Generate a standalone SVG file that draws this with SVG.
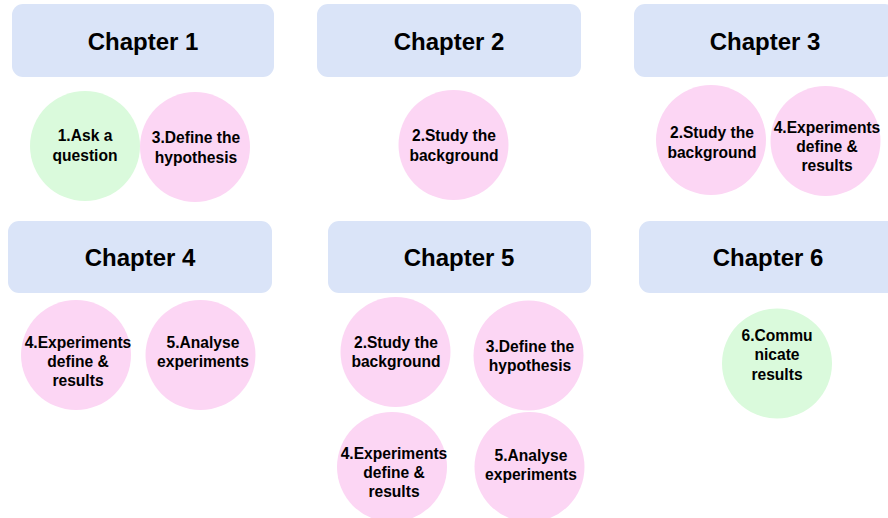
<svg xmlns="http://www.w3.org/2000/svg" width="888" height="518" viewBox="0 0 888 518">
  <style>
    .chap rect { fill: #dae4f8; }
    .chap text { font-family: "Liberation Sans", Arial, sans-serif; font-weight: bold; font-size: 24px; fill: #000; text-anchor: middle; }
    .step text { font-family: "Liberation Sans", Arial, sans-serif; font-weight: bold; font-size: 15.6px; fill: #000; text-anchor: middle; }
    .pink { fill: #fcd6f4; }
    .green { fill: #dafadc; }
  </style>
  <rect width="888" height="518" fill="#ffffff"/>

  <!-- chapter headers -->
  <g id="chapter1" class="chap"><rect x="12" y="4" width="262" height="73" rx="11"/><text x="143" y="50">Chapter 1</text></g>
  <g id="chapter2" class="chap"><rect x="317" y="4" width="264" height="73" rx="11"/><text x="449" y="50">Chapter 2</text></g>
  <g id="chapter3" class="chap"><rect x="634" y="4" width="262" height="73" rx="11"/><text x="765" y="50">Chapter 3</text></g>
  <g id="chapter4" class="chap"><rect x="8" y="221" width="264" height="72" rx="11"/><text x="140" y="266">Chapter 4</text></g>
  <g id="chapter5" class="chap"><rect x="328" y="221" width="263" height="72" rx="11"/><text x="459" y="266">Chapter 5</text></g>
  <g id="chapter6" class="chap"><rect x="639" y="221" width="260" height="72" rx="11"/><text x="768" y="266">Chapter 6</text></g>

  <!-- chapter 1 steps -->
  <g id="c1-ask" class="step"><circle class="green" cx="85" cy="146" r="55"/><text x="85" y="141">1.Ask a</text><text x="85" y="161">question</text></g>
  <g id="c1-define" class="step"><circle class="pink" cx="195" cy="147" r="55"/><text x="196" y="143">3.Define the</text><text x="196" y="163">hypothesis</text></g>

  <!-- chapter 2 steps -->
  <g id="c2-study" class="step"><circle class="pink" cx="453.5" cy="145" r="55"/><text x="454" y="141">2.Study the</text><text x="454" y="161">background</text></g>

  <!-- chapter 3 steps -->
  <g id="c3-study" class="step"><circle class="pink" cx="711" cy="140" r="55"/><text x="712" y="138">2.Study the</text><text x="712" y="158">background</text></g>
  <g id="c3-exp" class="step"><circle class="pink" cx="825.5" cy="141" r="55"/><text x="827" y="133">4.Experiments</text><text x="827" y="152">define &amp;</text><text x="827" y="171">results</text></g>

  <!-- chapter 4 steps -->
  <g id="c4-exp" class="step"><circle class="pink" cx="76" cy="355" r="55"/><text x="78" y="348">4.Experiments</text><text x="78" y="367">define &amp;</text><text x="78" y="386">results</text></g>
  <g id="c4-analyse" class="step"><circle class="pink" cx="200.5" cy="355" r="55"/><text x="203" y="348">5.Analyse</text><text x="203" y="367">experiments</text></g>

  <!-- chapter 5 steps -->
  <g id="c5-study" class="step"><circle class="pink" cx="395.5" cy="352" r="55"/><text x="396" y="348">2.Study the</text><text x="396" y="367">background</text></g>
  <g id="c5-define" class="step"><circle class="pink" cx="528.5" cy="355.5" r="55"/><text x="530" y="352">3.Define the</text><text x="530" y="371">hypothesis</text></g>
  <g id="c5-exp" class="step"><circle class="pink" cx="392" cy="467" r="55"/><text x="394" y="459">4.Experiments</text><text x="394" y="478">define &amp;</text><text x="394" y="497">results</text></g>
  <g id="c5-analyse" class="step"><circle class="pink" cx="529.5" cy="467" r="55"/><text x="531" y="461">5.Analyse</text><text x="531" y="480">experiments</text></g>

  <!-- chapter 6 steps -->
  <g id="c6-communicate" class="step"><circle class="green" cx="777" cy="363.5" r="55"/><text x="777" y="341">6.Commu</text><text x="777" y="360">nicate</text><text x="777" y="380">results</text></g>

  <g id="connectors"/>
</svg>
